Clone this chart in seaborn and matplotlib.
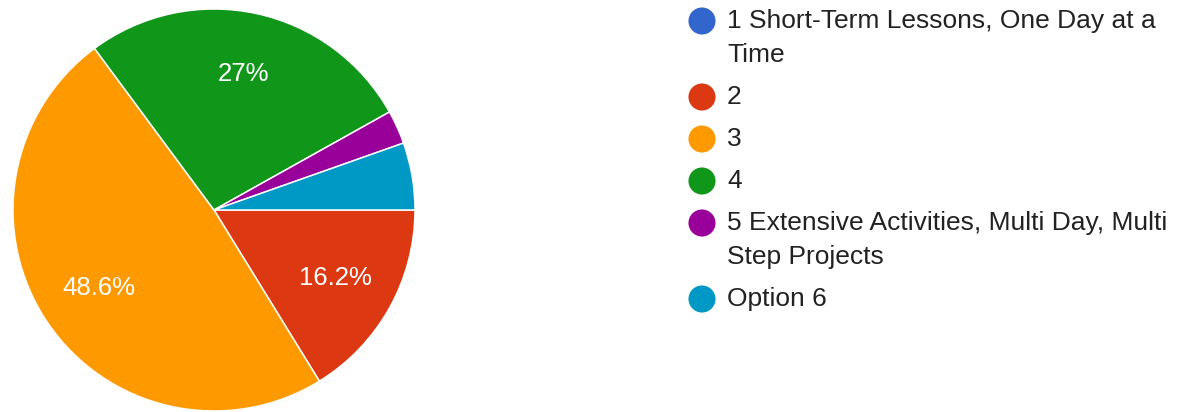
import matplotlib
matplotlib.use("Agg")
import matplotlib.pyplot as plt
import seaborn as sns

# ---- data ----
categories = [
    "1 Short-Term Lessons, One Day at a\nTime",
    "2",
    "3",
    "4",
    "5 Extensive Activities, Multi Day, Multi\nStep Projects",
    "Option 6",
]
counts = [0, 6, 18, 10, 1, 2]
colors = ["#3366cc", "#dc3912", "#ff9900", "#109618", "#990099", "#0099c6"]

sns.set_theme(style="white")
plt.rcParams["font.family"] = ["Liberation Sans", "DejaVu Sans"]
palette = sns.color_palette(colors)

W, H, DPI = 1194, 412, 100
fig = plt.figure(figsize=(W / DPI, H / DPI), dpi=DPI)
fig.patch.set_facecolor("white")

# pie axes: centre (214, 210) px, radius 201 px
cx, cy, r = 214, 210, 201
ax = fig.add_axes([(cx - r) / W, (H - cy - r) / H, 2 * r / W, 2 * r / H])


def fmt(p):
    if p < 10:
        return ""
    s = f"{p:.1f}".rstrip("0").rstrip(".")
    return s + "%"


wedges, texts, autotexts = ax.pie(
    counts,
    colors=palette,
    startangle=0,
    counterclock=False,
    autopct=fmt,
    pctdistance=0.69,
    wedgeprops=dict(edgecolor="white", linewidth=1.1),
    textprops=dict(color="white", fontsize=18.5),
)
ax.set_xlim(-1, 1)
ax.set_ylim(-1, 1)
ax.set_aspect("equal")
ax.axis("off")

# ---- legend (manual layout in pixel coordinates) ----
lax = fig.add_axes([0, 0, 1, 1])
lax.set_xlim(0, W)
lax.set_ylim(H, 0)
lax.axis("off")

marker_x, text_x = 702, 727
y = 21
line_gap, item_gap = 34, 42
for label, col in zip(categories, palette):
    lax.scatter([marker_x], [y], s=380, color=col, edgecolors="none")
    lines = label.split("\n")
    for k, line in enumerate(lines):
        lax.text(text_x, y + k * line_gap, line, fontsize=19, color="#222222",
                 va="center", ha="left")
    y += (len(lines) - 1) * line_gap + item_gap

fig.savefig("out.png", dpi=DPI, facecolor="white")
